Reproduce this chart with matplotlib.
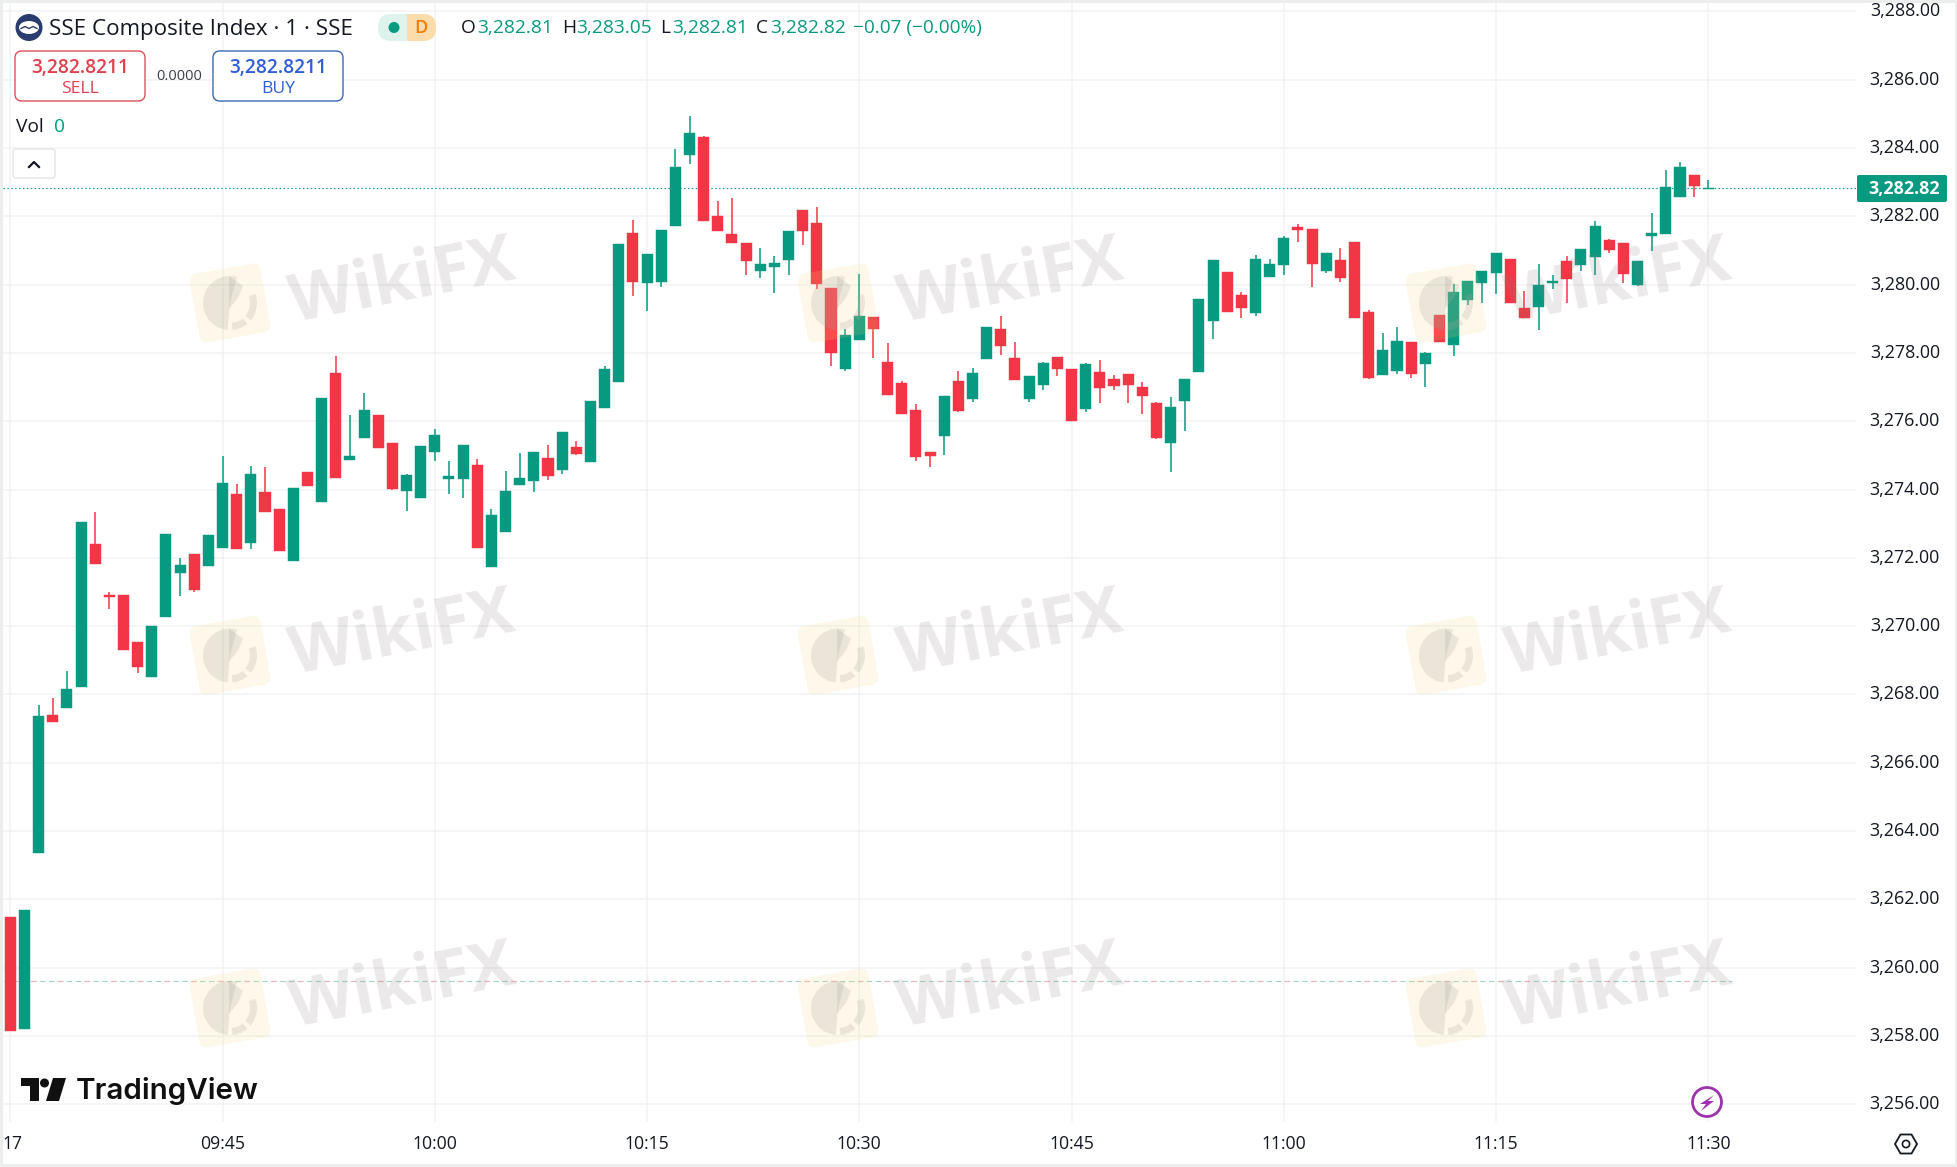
"""plot.py - SSE Composite 1 minute candles, TradingView style."""
import matplotlib
matplotlib.use("Agg")
import matplotlib.pyplot as plt
import matplotlib.transforms as mtrans
from matplotlib.patches import Circle, Ellipse, FancyBboxPatch, Polygon, Rectangle, Wedge

WIDTH, HEIGHT = 1957, 1167
GREEN = "#089981"
RED = "#f23645"
GRID = "#f1f2f4"
TEXT = "#131722"
FONT = "Open Sans"

# one bar per minute, first bar is 09:30
opens = [3261.48, 3258.20, 3263.37, 3267.39, 3267.61, 3268.21, 3272.41, 3270.92, 3270.92, 3269.52,
         3268.51, 3270.26, 3271.56, 3272.12, 3271.77, 3272.29, 3273.87, 3272.44, 3273.93, 3273.43,
         3271.92, 3274.51, 3273.62, 3277.40, 3274.86, 3275.51, 3276.17, 3275.36, 3273.97, 3273.76,
         3275.11, 3274.30, 3274.31, 3274.71, 3271.74, 3272.76, 3274.13, 3274.24, 3274.92, 3274.57,
         3275.24, 3274.81, 3276.39, 3277.15, 3281.52, 3280.04, 3280.09, 3281.71, 3283.79, 3284.33,
         3282.02, 3281.47, 3281.23, 3280.39, 3280.51, 3280.72, 3282.17, 3281.79, 3279.89, 3277.53,
         3278.38, 3279.04, 3277.72, 3277.11, 3276.32, 3275.09, 3275.57, 3277.17, 3276.66, 3277.83,
         3278.70, 3277.85, 3276.66, 3277.07, 3277.88, 3277.53, 3276.37, 3277.44, 3277.23, 3277.38,
         3277.00, 3276.53, 3275.37, 3276.60, 3277.45, 3278.94, 3280.37, 3279.70, 3279.18, 3280.23,
         3280.58, 3281.69, 3281.63, 3280.41, 3280.72, 3281.25, 3279.20, 3277.36, 3277.48, 3278.32,
         3277.68, 3279.11, 3278.24, 3279.56, 3280.05, 3280.35, 3280.74, 3279.32, 3279.33, 3280.06,
         3280.69, 3280.57, 3280.81, 3281.30, 3281.21, 3279.99, 3281.42, 3281.48, 3282.56, 3283.22,
         3282.81]
closes = [3258.13, 3261.70, 3267.36, 3267.19, 3268.15, 3273.06, 3271.83, 3270.86, 3269.29, 3268.80,
          3269.99, 3272.70, 3271.80, 3271.07, 3272.67, 3274.19, 3272.27, 3274.45, 3273.35, 3272.21,
          3274.04, 3274.10, 3276.69, 3274.34, 3274.97, 3276.32, 3275.22, 3274.01, 3274.42, 3275.27,
          3275.59, 3274.39, 3275.30, 3272.29, 3273.26, 3273.95, 3274.33, 3275.09, 3274.39, 3275.68,
          3275.03, 3276.58, 3277.52, 3281.20, 3280.07, 3280.91, 3281.61, 3283.45, 3284.45, 3281.86,
          3281.56, 3281.23, 3280.69, 3280.59, 3280.62, 3281.58, 3281.56, 3280.01, 3278.00, 3278.51,
          3279.07, 3278.70, 3276.77, 3276.21, 3274.96, 3274.98, 3276.73, 3276.29, 3277.41, 3278.76,
          3278.21, 3277.21, 3277.32, 3277.70, 3277.54, 3276.01, 3277.67, 3276.98, 3277.04, 3277.07,
          3276.75, 3275.51, 3276.41, 3277.23, 3279.58, 3280.72, 3279.21, 3279.32, 3280.75, 3280.60,
          3281.37, 3281.60, 3280.61, 3280.93, 3280.19, 3279.03, 3277.26, 3278.08, 3278.35, 3277.39,
          3277.99, 3278.33, 3279.78, 3280.10, 3280.39, 3280.92, 3279.47, 3279.03, 3279.99, 3280.12,
          3280.17, 3281.04, 3281.71, 3281.02, 3280.32, 3280.69, 3281.50, 3282.87, 3283.43, 3282.88,
          3282.82]
highs = [3261.48, 3261.70, 3267.68, 3267.89, 3268.69, 3273.06, 3273.35, 3271.00, 3270.92, 3269.52,
         3269.99, 3272.70, 3272.00, 3272.12, 3272.67, 3274.99, 3274.16, 3274.68, 3274.65, 3273.43,
         3274.04, 3274.51, 3276.69, 3277.92, 3276.17, 3276.84, 3276.17, 3275.36, 3274.45, 3275.27,
         3275.78, 3274.83, 3275.30, 3274.88, 3273.42, 3274.54, 3275.06, 3275.09, 3275.30, 3275.68,
         3275.41, 3276.58, 3277.61, 3281.20, 3281.88, 3280.91, 3281.61, 3283.98, 3284.95, 3284.36,
         3282.46, 3282.55, 3281.23, 3281.06, 3280.85, 3281.58, 3282.17, 3282.26, 3279.89, 3278.69,
         3280.30, 3279.04, 3278.28, 3277.17, 3276.50, 3275.09, 3276.73, 3277.46, 3277.55, 3278.76,
         3279.08, 3278.32, 3277.32, 3277.73, 3277.88, 3277.53, 3277.70, 3277.79, 3277.35, 3277.38,
         3277.15, 3276.56, 3276.71, 3277.23, 3279.58, 3280.72, 3280.37, 3279.78, 3280.87, 3280.75,
         3281.42, 3281.78, 3281.63, 3280.93, 3281.07, 3281.25, 3279.26, 3278.58, 3278.76, 3278.32,
         3278.03, 3279.11, 3280.02, 3280.10, 3280.39, 3280.92, 3280.74, 3279.81, 3280.60, 3280.28,
         3280.83, 3281.04, 3281.85, 3281.33, 3281.21, 3280.69, 3282.11, 3283.37, 3283.60, 3283.22,
         3283.05]
lows = [3258.13, 3258.20, 3263.37, 3267.19, 3267.61, 3268.21, 3271.83, 3270.49, 3269.29, 3268.62,
        3268.51, 3270.26, 3270.89, 3271.00, 3271.77, 3272.29, 3272.27, 3272.27, 3273.35, 3272.21,
        3271.92, 3274.10, 3273.62, 3274.34, 3274.86, 3275.51, 3275.22, 3273.98, 3273.38, 3273.76,
        3274.84, 3273.88, 3273.76, 3272.29, 3271.74, 3272.76, 3274.13, 3273.93, 3274.27, 3274.45,
        3275.00, 3274.81, 3276.39, 3277.15, 3279.66, 3279.22, 3279.93, 3281.71, 3283.52, 3281.86,
        3281.56, 3281.21, 3280.28, 3280.19, 3279.75, 3280.28, 3281.15, 3279.87, 3277.62, 3277.47,
        3278.38, 3277.85, 3276.77, 3276.21, 3274.84, 3274.66, 3275.01, 3276.27, 3276.56, 3277.83,
        3277.95, 3277.21, 3276.57, 3276.92, 3277.33, 3276.01, 3276.28, 3276.54, 3276.92, 3276.54,
        3276.22, 3275.49, 3274.52, 3275.72, 3277.45, 3278.42, 3279.21, 3279.03, 3279.09, 3280.23,
        3280.29, 3281.25, 3279.94, 3280.35, 3280.09, 3279.03, 3277.24, 3277.36, 3277.39, 3277.26,
        3277.01, 3278.33, 3277.90, 3279.41, 3279.47, 3279.73, 3279.47, 3279.03, 3278.68, 3279.87,
        3279.47, 3280.39, 3280.29, 3280.93, 3280.05, 3279.96, 3280.99, 3281.48, 3282.56, 3282.56,
        3282.81]

price_ticks = list(range(3256, 3290, 2))
time_ticks = [15, 30, 45, 60, 75, 90, 105, 120]
time_labels = ["09:45", "10:00", "10:15", "10:30", "10:45", "11:00", "11:15", "11:30"]
last_price = 3282.82
prev_close = 3259.6

# pixel placement of the chart pane: bar 0 at x=10.3, 14.15 px per bar, 34.15 px per point
PANE = (3, 3, 1856, 1122)
px_to_bar = lambda px: (px - 10.3) / 14.15
px_to_price = lambda py: 3284 - (py - 148) / 34.15

fig = plt.figure(figsize=(WIDTH / 100, HEIGHT / 100), dpi=100, facecolor="white")
plt.rcParams["font.family"] = [FONT, "DejaVu Sans"]
ax = fig.add_axes([PANE[0] / WIDTH, 1 - PANE[3] / HEIGHT,
                   (PANE[2] - PANE[0]) / WIDTH, (PANE[3] - PANE[1]) / HEIGHT])
ax.set_xlim(px_to_bar(PANE[0]), px_to_bar(PANE[2]))
ax.set_ylim(px_to_price(PANE[3]), px_to_price(PANE[1]))
ax.axis("off")

# grid
for p in price_ticks:
    ax.axhline(p, color=GRID, lw=1.1, zorder=1)
for t in [0] + time_ticks:
    ax.axvline(t, color=GRID, lw=1.1, zorder=1)

# previous close + last price lines
ax.plot([px_to_bar(4), px_to_bar(1732)], [prev_close] * 2, color="#a3d6ca", lw=0.8,
        dashes=(5, 3), zorder=2)
ax.plot([px_to_bar(4), px_to_bar(1732)], [prev_close] * 2, color="#eeb4b8", lw=0.8,
        dashes=(5, 19), zorder=2)
ax.axhline(last_price, color=GREEN, lw=0.8, dashes=(1.3, 2.2), zorder=2)

# candles
for i, (o, c, h, l) in enumerate(zip(opens, closes, highs, lows)):
    color = GREEN if c >= o else RED
    ax.vlines(i, l, h, color=color, lw=1.1, zorder=3)
    ax.add_patch(Rectangle((i - 0.39, min(o, c)), 0.78, abs(c - o), facecolor=color,
                           edgecolor=color, lw=0.3, zorder=3))

# everything below sits on a pixel overlay
ov = fig.add_axes([0, 0, 1, 1], facecolor="none")
ov.set_xlim(0, WIDTH)
ov.set_ylim(HEIGHT, 0)
ov.axis("off")

# watermarks
for wx in (0, 608, 1216):
    for wy in (0, 352.5, 705):
        cx, cy = 230 + wx, 303 + wy
        rot = mtrans.Affine2D().rotate_deg_around(cx, cy, -10) + ov.transData
        ov.add_patch(FancyBboxPatch((cx - 36, cy - 35), 72, 70, boxstyle="round,pad=0,rounding_size=8",
                                    facecolor="#f6d67c", edgecolor="none", alpha=0.16, transform=rot, zorder=5))
        ov.add_patch(Wedge((cx, cy), 27, 95, 285, facecolor="#a8a29c", edgecolor="none", alpha=0.22, zorder=6))
        ov.add_patch(Polygon([(cx - 1, cy - 27), (cx + 13, cy - 17), (cx + 8, cy - 5), (cx - 1, cy + 6)],
                             facecolor="#a8a29c", edgecolor="none", alpha=0.22, zorder=6))
        ov.add_patch(Wedge((cx, cy), 27, 340, 40, width=7, facecolor="#a8a29c", edgecolor="none",
                           alpha=0.22, zorder=6))
        ov.add_patch(Wedge((cx, cy), 27, 50, 85, width=7, facecolor="#a8a29c", edgecolor="none",
                           alpha=0.22, zorder=6))
        ov.text(402 + wx, 283 + wy, "WikiFX", fontsize=48, fontweight="bold", color="#8a7f7a", alpha=0.17,
                rotation=11, ha="center", va="center", rotation_mode="anchor", family="Open Sans", zorder=6)

# axis labels
for p in price_ticks:
    y = ov.transData.inverted().transform(ax.transData.transform((0, p)))[1]
    ov.text(1940, y, f"{p:,.2f}", fontsize=12.9, color=TEXT, ha="right", va="center", zorder=7)
for t, lab in zip(time_ticks, time_labels):
    x = ov.transData.inverted().transform(ax.transData.transform((t, 0)))[0]
    ov.text(x, 1144, lab, fontsize=12.7, color=TEXT, ha="center", va="center", zorder=7)
ov.text(12, 1144, "17", fontsize=12.7, color=TEXT, ha="center", va="center", zorder=7)

# last price tag
ov.add_patch(FancyBboxPatch((1857, 175), 90, 27, boxstyle="round,pad=0,rounding_size=2",
                            facecolor=GREEN, edgecolor="none", zorder=7))
ov.text(1940, 188.5, f"{last_price:,.2f}", fontsize=12.9, color="white", fontweight="bold",
        ha="right", va="center", zorder=8)

# page edges
ov.add_patch(Rectangle((0, 0), 3, HEIGHT, facecolor="#eceded", edgecolor="none", zorder=9))
ov.add_patch(Rectangle((0, 0), WIDTH, 3, facecolor="#eceded", edgecolor="none", zorder=9))
ov.add_patch(Rectangle((0, 1164), WIDTH, 3, facecolor="#eceded", edgecolor="none", zorder=9))
ov.add_patch(Rectangle((1955, 0), 2, HEIGHT, facecolor="#eceded", edgecolor="none", zorder=9))

# legend row
ov.add_patch(Circle((29, 27.5), 13.5, facecolor="#2a3b70", edgecolor="none", zorder=7))
ov.add_patch(Ellipse((29, 27.5), 20, 13, facecolor="white", edgecolor="none", zorder=8))
ov.plot([21, 25, 29, 33, 37], [28.5, 26.5, 28.5, 26.5, 28.5], color="#2a3b70", lw=1.0, zorder=9)
ov.text(49, 29.5, "SSE Composite Index · 1 · SSE", fontsize=16.1, color=TEXT, va="center", zorder=7)
ov.add_patch(FancyBboxPatch((378, 14), 58, 27, boxstyle="round,pad=0,rounding_size=13",
                            facecolor="#dff3ee", edgecolor="none", zorder=7))
clip = FancyBboxPatch((378, 14), 58, 27, boxstyle="round,pad=0,rounding_size=13",
                      facecolor="none", edgecolor="none", transform=ov.transData)
ov.add_patch(clip)
orange = Rectangle((407, 14), 29, 27, facecolor="#fddcac", edgecolor="none", zorder=7)
ov.add_patch(orange)
orange.set_clip_path(clip)
ov.add_patch(Circle((394, 27.5), 5.5, facecolor=GREEN, edgecolor="none", zorder=8))
ov.text(421, 28, "D", fontsize=13, color="#f57c00", fontweight="semibold", ha="center", va="center", zorder=8)

ohlc = [(461, 477, "O", "3,282.81"), (562, 576, "H", "3,283.05"),
        (660, 672, "L", "3,282.81"), (756, 770, "C", "3,282.82")]
for xk, xv, key, val in ohlc:
    ov.text(xk, 28, key, fontsize=13.8, color=TEXT, va="center", zorder=7)
    ov.text(xv, 28, val, fontsize=13.8, color=GREEN, va="center", zorder=7)
ov.text(853, 28, "−0.07 (−0.00%)", fontsize=13.7, color=GREEN, va="center", zorder=7)

# sell / buy boxes
for x0, col, val, lab in [(15, "#e0505f", "3,282.8211", "SELL"), (213, "#3a68b8", "3,282.8211", "BUY")]:
    ov.add_patch(FancyBboxPatch((x0, 51), 130, 50, boxstyle="round,pad=0,rounding_size=7",
                                facecolor="white", edgecolor=col, lw=1.0, zorder=7))
    txt = "#e0404f" if lab == "SELL" else "#2f5fd8"
    ov.text(x0 + 65, 68, val, fontsize=13.7, color=txt, ha="center", va="center", fontweight="semibold", zorder=8)
    ov.text(x0 + 65, 89, lab, fontsize=12.6, color=txt, ha="center", va="center", zorder=8)
ov.text(179, 76, "0.0000", fontsize=10.5, color="#3c3f48", ha="center", va="center", zorder=8)

ov.text(16, 127, "Vol", fontsize=13.8, color=TEXT, va="center", zorder=7)
ov.text(54, 127, "0", fontsize=13.8, color=GREEN, va="center", zorder=7)
ov.add_patch(FancyBboxPatch((13, 149), 42, 29, boxstyle="round,pad=0,rounding_size=3",
                            facecolor="white", edgecolor="#e4e5e8", lw=1, zorder=7))
ov.plot([29, 34, 39], [167, 162, 167], color=TEXT, lw=1.6, zorder=8)

# TradingView mark
ov.add_patch(Polygon([(21, 1078), (38.5, 1078), (38.5, 1101), (29.5, 1101), (29.5, 1086), (21, 1086)],
                     facecolor="#101010", edgecolor="none", zorder=7))
ov.add_patch(Circle((44.5, 1083), 4.5, facecolor="#101010", edgecolor="none", zorder=7))
ov.add_patch(Polygon([(53, 1078), (66, 1078), (59, 1101), (46, 1101)], facecolor="#101010",
                     edgecolor="none", zorder=7))
ov.text(76, 1091, "TradingView", fontsize=21.3, color="#101010", fontweight="semibold",
        va="center", family="Inter", zorder=7)

# lightning + settings icons
ov.add_patch(Circle((1707, 1102), 14.5, facecolor="white", edgecolor="#9c33ad", lw=2.0, zorder=7))
ov.add_patch(Polygon([(1714, 1095), (1700, 1104), (1706, 1104), (1701, 1111), (1714, 1101), (1708, 1101)],
                     facecolor="#9c33ad", edgecolor="none", zorder=8))
ov.add_patch(Polygon([(1895, 1144), (1900.5, 1134.5), (1911.5, 1134.5), (1917, 1144), (1911.5, 1153.5), (1900.5, 1153.5)],
                     facecolor="white", edgecolor=TEXT, lw=1.3, zorder=7))
ov.add_patch(Circle((1906, 1144), 3.6, facecolor="white", edgecolor=TEXT, lw=1.2, zorder=8))

fig.savefig("out.png", dpi=100)
